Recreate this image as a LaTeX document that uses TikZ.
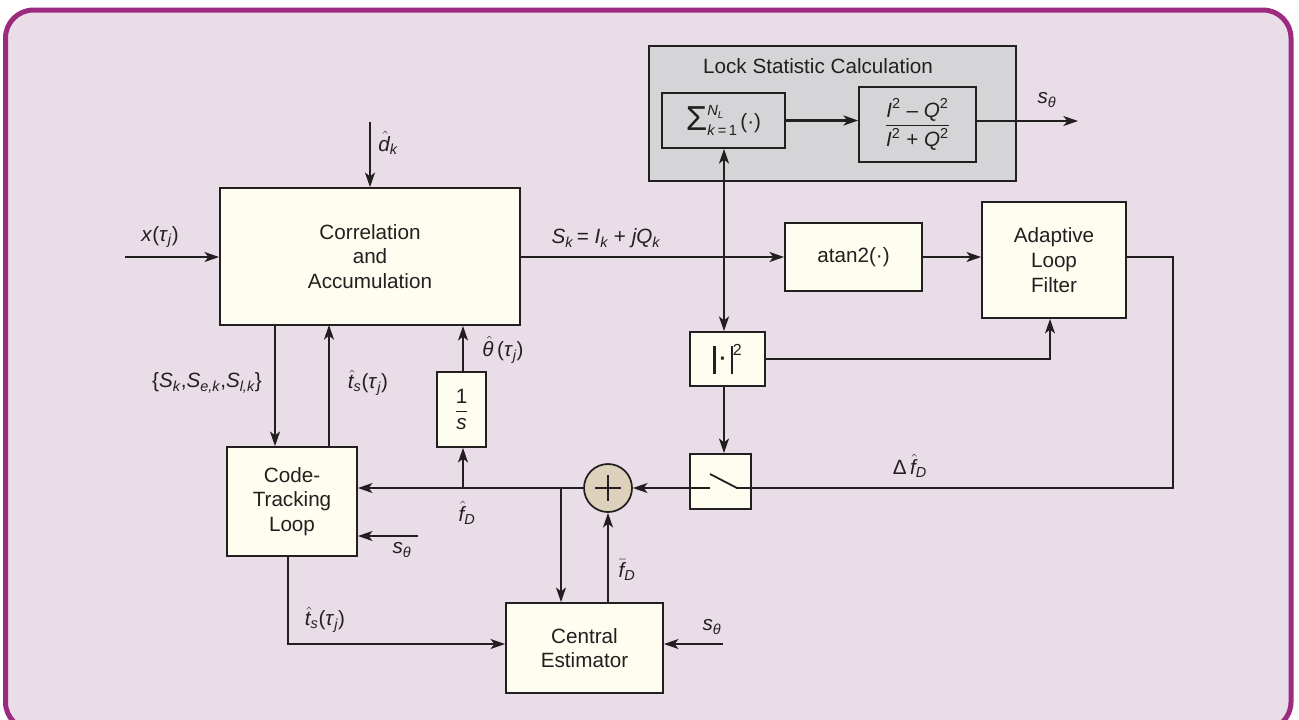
\documentclass[tikz,border=0pt]{standalone}
\usepackage{amsmath}
\usepackage{fontspec}
\setmainfont{Liberation Sans}
\usetikzlibrary{arrows.meta,calc}
\definecolor{framec}{HTML}{9C2B7F}
\definecolor{bgc}{HTML}{E9DDE7}
\definecolor{lockgray}{HTML}{D5D5D7}
\definecolor{cream}{HTML}{FFFDF0}
\definecolor{sumtan}{HTML}{DFD2BC}
\definecolor{ink}{HTML}{231F20}
\newcommand\vi[1]{\textit{#1}}
\newcommand\hatit[1]{$\hat{\vi{#1}\kern2pt}$\kern-2pt}
\newcommand\barit[1]{$\bar{\vi{#1}\kern1.5pt}$\kern-1.5pt}
\newcommand\pu{0.75pt}
\begin{document}
\begin{tikzpicture}[x=0.75pt,y=-0.75pt,
 every node/.style={font=\fontsize{15.5}{18.6}\selectfont, text=ink},
 box/.style={draw=ink, line width=1.3pt, fill=cream, align=center, inner sep=0pt},
 conn/.style={draw=ink, line width=1.35pt},
 arr/.style={conn, -{Stealth[length=11pt,width=7.5pt,inset=3pt]}},
 heavy/.style={line width=2.2pt},
 lbl/.style={inner sep=0pt}]
\useasboundingbox (0,0) rectangle (1299,719);
\clip (0,0) rectangle (1299,719);
\draw[line width=3.75pt, draw=framec, fill=bgc, rounded corners=21pt] (5.5,10) rectangle (1291,730);

% Lock statistic block
\node[draw=ink, line width=1.3pt, fill=lockgray, minimum width=367*\pu, minimum height=135*\pu, inner sep=0pt] (lock) at (832.5,113.5) {};
\node[lbl] (locklbl) at (818,66) {Lock Statistic Calculation};
\node[box, fill=lockgray, minimum width=123*\pu, minimum height=55*\pu] (sum) at (723.5,120.5)
 {\raisebox{-1pt}{\fontsize{26}{26}\selectfont Σ}\raisebox{10pt}{\rlap{\fontsize{11}{11}\selectfont\vi{N}\raisebox{-2pt}{\fontsize{7.5}{7.5}\selectfont\vi{L}}}}\raisebox{-5pt}{\fontsize{11}{11}\selectfont\vi{k}\,=\,1}\,(·)};
\node[box, fill=lockgray, minimum width=117*\pu, minimum height=75*\pu] (frac) at (917.5,124.5)
 {$\dfrac{\vi{I}^{\text{2}}\text{ – }\vi{Q}^{\text{2}}}{\vi{I}^{\text{2}}\text{ + }\vi{Q}^{\text{2}}}$};

% Main blocks
\node[box, minimum width=300*\pu, minimum height=137*\pu] (corr) at (370,256.5) {Correlation\\and\\Accumulation};
\node[box, minimum width=137*\pu, minimum height=68*\pu] (atan) at (853.5,257) {atan2(·)};
\node[box, minimum width=144*\pu, minimum height=116*\pu] (alf) at (1054,260) {Adaptive\\Loop\\Filter};
\node[box, minimum width=75*\pu, minimum height=54*\pu] (abs) at (727.5,359)
 {\rule[-5pt]{1.8pt}{21pt}\kern3pt\raisebox{1pt}{\textbf{·}}\kern3pt\rule[-5pt]{1.8pt}{21pt}\raisebox{9pt}{\fontsize{12}{12}\selectfont 2}};
\node[box, minimum width=61*\pu, minimum height=55*\pu] (sw) at (720.5,481.5) {};
\node[box, minimum width=49*\pu, minimum height=75*\pu] (oneby) at (461.5,409.5) {$\dfrac{\text{1}}{\vi{s}}$};
\node[box, minimum width=130*\pu, minimum height=109*\pu] (ctl) at (292,501.5) {Code-\\Tracking\\Loop};
\node[box, minimum width=157*\pu, minimum height=90*\pu] (ce) at (584.5,648) {Central\\Estimator};
\node[circle, draw=ink, line width=1.3pt, fill=sumtan, minimum size=48*\pu, inner sep=0pt] (circ) at (608,488) {};
\draw[conn, line width=1.1pt] ($(circ)+(-13,0)$) -- ($(circ)+(13,0)$);
\draw[conn, line width=1.1pt] ($(circ)+(0,-13)$) -- ($(circ)+(0,13)$);

% switch interior
\coordinate (swa) at (710,488);
\coordinate (swb) at (710,474);
\coordinate (swc) at (737,488);
\draw[conn] (sw.west |- swa) -- (swa);
\draw[conn] (swb) -- (swc) -- (sw.east |- swc);

% free ends / junctions
\coordinate (vx) at (724,0);
\coordinate (xin) at (125,257);
\coordinate (din) at (370,122);
\coordinate (sout) at (1078,121);
\coordinate (fbx) at (1173,488);
\coordinate (alfin) at (1050,359);
\coordinate (j1) at (561,488);
\coordinate (j2) at (463,488);
\coordinate (c1) at (275,325);
\coordinate (c2) at (329,325);
\coordinate (s2) at (418,536);
\coordinate (ctlout) at (288,644);
\coordinate (s3) at (723,644);

% connectors
\draw[arr] (xin) -- (xin -| corr.west);
\draw[arr] (din) -- (din |- corr.north);
\draw[arr, heavy] (corr.east |- atan.west) -- (atan.west);
\draw[conn, heavy, {Stealth[length=11pt,width=7.5pt,inset=3pt]}-{Stealth[length=11pt,width=7.5pt,inset=3pt]}] (vx |- sum.south) -- (vx |- abs.north);
\draw[arr, heavy] (sum.east) -- (sum.east -| frac.west);
\draw[arr] (sout -| frac.east) -- (sout);
\draw[arr] (atan.east) -- (atan.east -| alf.west);
\draw[conn] (alf.east |- atan.east) -| (fbx) -- (fbx -| sw.east);
\draw[arr] (abs.east) -| (alfin |- alf.south);
\draw[arr] (vx |- abs.south) -- (vx |- sw.north);
\draw[arr] (sw.west |- circ) -- (circ.east);
\draw[arr] (circ.west) -- (circ.west -| ctl.east);
\draw[arr] (j1) -- (j1 |- ce.north);
\draw[arr] (j2) -- (j2 |- oneby.south);
\draw[arr] (j2 |- oneby.north) -- (j2 |- corr.south);
\draw[arr] (c1) -- (c1 |- ctl.north);
\draw[arr] (c2 |- ctl.north) -- (c2);
\draw[arr] (s2) -- (s2 -| ctl.east);
\draw[arr] (ctlout |- ctl.south) -- (ctlout) -- (ctlout -| ce.west);
\draw[arr] (circ |- ce.north) -- (circ.south);
\draw[arr] (s3) -- (s3 -| ce.east);

% labels
\node[lbl] (lx) at (160,237) {\vi{x}(\vi{τ}$_{\vi{j}}$)};
\node[lbl] (ld) at (388,143) {\hatit{d}$_{\vi{k}}$};
\node[lbl] (lsk) at (606,238) {\vi{S}$_{\vi{k}}$\,= \vi{I}$_{\vi{k}}$ + \vi{jQ}$_{\vi{k}}$};
\node[lbl] (lst) at (1047,100) {\vi{s}$_{\vi{θ}}$};
\node[lbl] (lset) at (207,383) {\{\vi{S}$_{\vi{k}}$,\vi{S}$_{\vi{e,k}}$,\vi{S}$_{\vi{l,k}}$\}};
\node[lbl] (lts1) at (368,383) {\hatit{t}$_{\vi{s}}$(\vi{τ}$_{\vi{j}}$)};
\node[lbl] (lth) at (503,350) {\hatit{θ}\,(\vi{τ}$_{\vi{j}}$)};
\node[lbl] (lfd) at (467,513) {\hatit{f}$_{\vi{D}}$};
\node[lbl] (lst2) at (402,550) {\vi{s}$_{\vi{θ}}$};
\node[lbl] (ldf) at (910,466) {Δ\,\hatit{f}$_{\vi{D}}$};
\node[lbl] (lts2) at (325,620) {\hatit{t}$_{\vi{s}}$(\vi{τ}$_{\vi{j}}$)};
\node[lbl] (lfb) at (627,570) {\barit{f}$_{\vi{D}}$};
\node[lbl] (lst3) at (712,627) {\vi{s}$_{\vi{θ}}$};
\end{tikzpicture}
\end{document}
